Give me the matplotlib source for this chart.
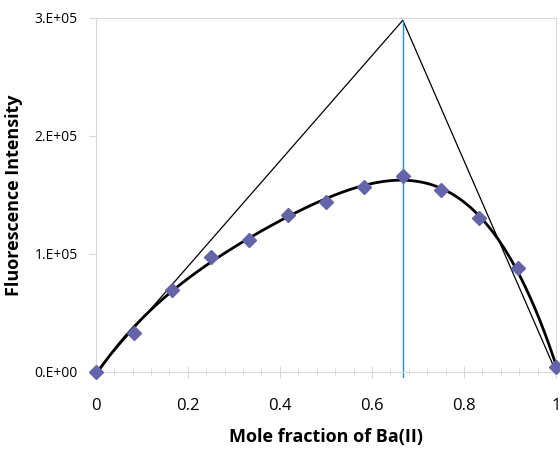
import numpy as np
import matplotlib.pyplot as plt
from matplotlib.ticker import MultipleLocator, FuncFormatter

# Job's plot data
mole_fraction = [0, 1/12, 2/12, 3/12, 4/12, 5/12, 6/12, 7/12, 8/12, 9/12, 10/12, 11/12, 1]
intensity = [0, 33000, 69500, 97500, 112000, 133000, 144000, 157000, 166000,
             154000, 130500, 88000, 4500]

# tangent lines meeting at the stoichiometric point
tangent_x = [0, 0.667, 1]
tangent_y = [0, 298000, 0]
peak_x = 0.667

fig = plt.figure(figsize=(5.6, 4.49), dpi=100)
ax = fig.add_axes([0.171, 0.1715, 0.822, 0.7885])

# polynomial trendline through the measured points
coef = np.polyfit(mole_fraction, intensity, 4)
xs = np.linspace(0, 1, 200)
ax.plot(xs, np.polyval(coef, xs), color='black', lw=2, zorder=3)

ax.plot(tangent_x, tangent_y, color='black', lw=0.9, zorder=2)
ax.plot([peak_x, peak_x], [-4000, tangent_y[1]], color='#2b8ad2', lw=1, clip_on=False, zorder=2)

ax.plot(mole_fraction, intensity, 'D', color='#6464a8', markersize=7, clip_on=False, zorder=4)

ax.set_xlim(0, 1)
ax.set_ylim(0, 300000)
ax.xaxis.set_major_locator(MultipleLocator(0.2))
ax.xaxis.set_minor_locator(MultipleLocator(0.04))
ax.yaxis.set_major_locator(MultipleLocator(100000))


def xfmt(v, p):
    v = round(v, 2)
    if v == 0 or v == 1:
        return str(int(v))
    return f'{v:.1f}'


ax.xaxis.set_major_formatter(FuncFormatter(xfmt))
ax.yaxis.set_major_formatter(FuncFormatter(lambda v, p: f'{int(round(v / 1e5))}.E+05' if v else '0.E+00'))

for s in ax.spines.values():
    s.set_color('#d9d9d9')
ax.tick_params(axis='x', which='major', direction='inout', length=9, color='#d9d9d9',
               labelsize=12, pad=14)
ax.tick_params(axis='x', which='minor', direction='inout', length=6, color='#d9d9d9')
ax.tick_params(axis='y', which='major', direction='out', length=5, color='#d9d9d9',
               labelsize=10, pad=8)
for lab in ax.get_xticklabels() + ax.get_yticklabels():
    lab.set_family('Open Sans')

ax.set_xlabel('Mole fraction of Ba(II)', fontsize=13, fontweight='bold', family='Open Sans', labelpad=10)
ax.set_ylabel('Fluorescence Intensity', fontsize=13, fontweight='bold', family='Open Sans', labelpad=8)

fig.savefig('out.png', dpi=100)
